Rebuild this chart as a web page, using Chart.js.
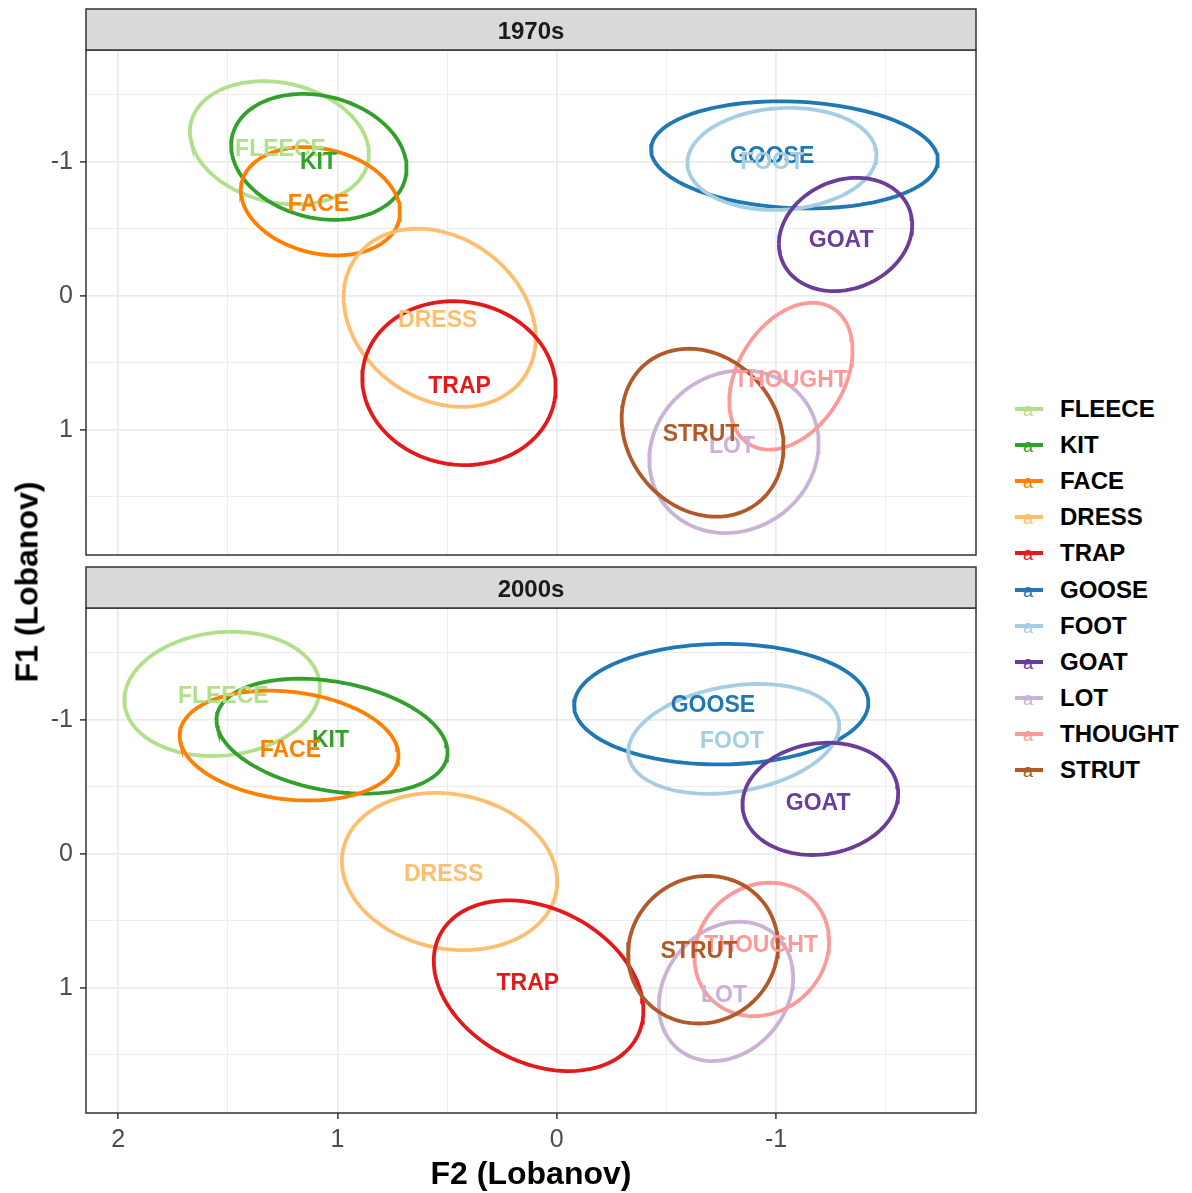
<!DOCTYPE html>
<html>
<head>
<meta charset="utf-8">
<title>Vowel ellipses by decade</title>
<script src="https://cdn.jsdelivr.net/npm/chart.js@4.4.0/dist/chart.umd.min.js"></script>
<style>
    body { margin: 0; background: #fff; font-family: 'Liberation Sans', Arial, sans-serif; }
    #wrap { position: relative; width: 1192px; height: 1193px; overflow: hidden; }
    canvas { position: absolute; left: 0; }
    #c1970 { top: 0; }
    #c2000 { top: 558px; }
    .ytitle { position: absolute; left: 27px; top: 582px; transform: translate(-50%, -50%) rotate(-90deg);
              font-weight: bold; font-size: 32px; white-space: nowrap; color: #000; }
    .xtitle { position: absolute; left: 531px; top: 1173px; transform: translate(-50%, -50%);
              font-weight: bold; font-size: 32px; white-space: nowrap; color: #000; }
    #legend { position: absolute; left: 1013px; top: 391px; }
    .row { height: 36.1px; display: flex; align-items: center; }
    .key { position: relative; width: 32px; height: 36px; margin-right: 15px; }
    .key .ln { position: absolute; left: 2px; width: 28px; top: 16px; height: 4px; }
    .key .a { position: absolute; left: 0; width: 30px; text-align: center; top: 10px;
              font-family: 'Liberation Sans', Arial, sans-serif; font-size: 18px; line-height: 18px; }
    .lab { font-weight: bold; font-size: 24px; color: #000; }
</style>
</head>
<body>
<div id="wrap">
    <canvas id="c1970" width="990" height="560"></canvas>
    <canvas id="c2000" width="990" height="635"></canvas>
    <div class="ytitle">F1 (Lobanov)</div>
    <div class="xtitle">F2 (Lobanov)</div>
    <div id="legend"></div>
</div>
<script>
// Vowel categories and colours
const vowels = ['FLEECE', 'KIT', 'FACE', 'DRESS', 'TRAP', 'GOOSE', 'FOOT', 'GOAT', 'LOT', 'THOUGHT', 'STRUT'];
const vowelColors = ['#B2DF8A', '#33A02C', '#FF7F00', '#FDBF6F', '#E31A1C', '#1F78B4',
                     '#A6CEE3', '#6A3D9A', '#CAB2D6', '#FB9A99', '#B15928'];
const decades = ['1970s', '2000s'];

// 1970s: ellipse centre, half-extent along each axis, tilt (correlation)
const f2Centre1970 = [1.265, 1.085, 1.078, 0.534, 0.446, -1.084, -1.027, -1.317, -0.808, -1.068, -0.665];
const f1Centre1970 = [-1.142, -1.037, -0.706, 0.164, 0.652, -1.052, -1.022, -0.458, 1.164, 0.600, 1.022];
const f2Spread1970 = [0.408, 0.400, 0.363, 0.438, 0.441, 0.654, 0.431, 0.304, 0.386, 0.281, 0.369];
const f1Spread1970 = [0.460, 0.470, 0.404, 0.665, 0.612, 0.400, 0.381, 0.423, 0.607, 0.548, 0.627];
const tilt1970 = [-0.18, -0.18, -0.20, -0.23, -0.06, -0.10, 0.08, 0.17, 0.10, 0.35, -0.17];
// 1970s: label positions (vowel means)
const f2Label1970 = [1.260, 1.087, 1.087, 0.543, 0.443, -0.982, -0.982, -1.297, -0.799, -1.068, -0.658];
const f1Label1970 = [-1.093, -0.996, -0.684, 0.186, 0.677, -1.041, -0.996, -0.409, 1.123, 0.632, 1.033];

// 2000s
const f2Centre2000 = [1.526, 1.025, 1.221, 0.489, 0.083, -0.750, -0.807, -1.202, -0.772, -0.935, -0.667];
const f1Centre2000 = [-1.194, -0.878, -0.808, 0.132, 0.985, -1.117, -0.858, -0.410, 1.027, 0.714, 0.716];
const f2Spread2000 = [0.446, 0.527, 0.499, 0.491, 0.478, 0.671, 0.481, 0.355, 0.306, 0.307, 0.342];
const f1Spread2000 = [0.464, 0.429, 0.410, 0.587, 0.637, 0.450, 0.410, 0.419, 0.520, 0.498, 0.551];
const tilt2000 = [0.10, -0.28, -0.18, -0.13, -0.29, 0.02, 0.24, 0.10, 0.20, 0.12, 0.06];
const f2Label2000 = [1.521, 1.032, 1.215, 0.516, 0.132, -0.712, -0.799, -1.192, -0.763, -0.932, -0.648];
const f1Label2000 = [-1.175, -0.848, -0.773, 0.156, 0.967, -1.108, -0.840, -0.372, 1.056, 0.684, 0.729];

// Axes
const f2Ticks = [-1.5, -1, -0.5, 0, 0.5, 1, 1.5, 2];
const f1Ticks = [-1.5, -1, -0.5, 0, 0.5, 1, 1.5];
const f2Range = [-1.912, 2.147];
const f1Range = [-1.835, 1.935];

const FONT = "'Liberation Sans', Arial, sans-serif";

// Outline of an ellipse with the given half-extents and correlation
function ellipse(cx, cy, sx, sy, r) {
    const pts = [];
    const q = Math.sqrt(1 - r * r);
    for (let i = 0; i <= 120; i++) {
        const t = i / 120 * 2 * Math.PI;
        pts.push({ x: cx + sx * Math.cos(t), y: cy + sy * (r * Math.cos(t) + q * Math.sin(t)) });
    }
    return pts;
}

const isMajor = ctx => ctx.tick && Number.isInteger(ctx.tick.value);

// Strip header, panel border and vowel labels
const panelPlugin = {
    id: 'panel',
    afterDatasetsDraw(chart, args, opts) {
        const { ctx, scales: { x, y } } = chart;
        ctx.save();
        ctx.font = 'bold 23px ' + FONT;
        ctx.textAlign = 'center';
        ctx.textBaseline = 'middle';
        opts.labelF2.forEach((v, i) => {
            ctx.fillStyle = vowelColors[i];
            ctx.fillText(vowels[i], x.getPixelForValue(v), y.getPixelForValue(opts.labelF1[i]));
        });
        ctx.restore();
    },
    afterDraw(chart, args, opts) {
        const { ctx, chartArea: a } = chart;
        ctx.save();
        ctx.strokeStyle = '#333333';
        ctx.lineWidth = 1.5;
        ctx.strokeRect(a.left, a.top, a.right - a.left, a.bottom - a.top);
        ctx.fillStyle = '#D9D9D9';
        ctx.fillRect(a.left, a.top - 41, a.right - a.left, 41);
        ctx.strokeRect(a.left, a.top - 41, a.right - a.left, 41);
        ctx.fillStyle = '#1A1A1A';
        ctx.font = 'bold 24px ' + FONT;
        ctx.textAlign = 'center';
        ctx.textBaseline = 'middle';
        ctx.fillText(opts.title, (a.left + a.right) / 2, a.top - 18);
        ctx.restore();
    }
};

function makeChart(id, title, f2c, f1c, f2s, f1s, tilt, f2l, f1l, showX) {
    const datasets = vowels.map((v, i) => ({
        label: v,
        data: ellipse(f2c[i], f1c[i], f2s[i], f1s[i], tilt[i]),
        showLine: true,
        borderColor: vowelColors[i],
        borderWidth: 3.8,
        pointRadius: 0,
        tension: 0,
        order: -i
    }));

    return new Chart(document.getElementById(id), {
        type: 'scatter',
        data: { datasets },
        options: {
            responsive: false,
            animation: false,
            devicePixelRatio: 1,
            layout: { padding: { top: 50, right: 14, bottom: showX ? 0 : 5, left: 0 } },
            plugins: {
                legend: { display: false },
                tooltip: { enabled: false },
                panel: { title, labelF2: f2l, labelF1: f1l }
            },
            scales: {
                x: {
                    type: 'linear',
                    reverse: true,
                    min: f2Range[0],
                    max: f2Range[1],
                    afterBuildTicks: s => { s.ticks = f2Ticks.map(v => ({ value: v })); },
                    afterFit: s => { s.height = showX ? 80 : 0; },
                    border: { display: false },
                    grid: {
                        color: '#EBEBEB',
                        lineWidth: c => isMajor(c) ? 1.8 : 0.9,
                        drawTicks: showX,
                        tickLength: 6,
                        tickWidth: 1.5,
                        tickColor: c => isMajor(c) ? '#333333' : 'rgba(0,0,0,0)'
                    },
                    ticks: {
                        display: showX,
                        autoSkip: false,
                        maxRotation: 0,
                        padding: 6,
                        color: '#4D4D4D',
                        font: { family: FONT, size: 25 },
                        callback: v => Number.isInteger(v) ? String(v) : ''
                    }
                },
                y: {
                    type: 'linear',
                    reverse: true,
                    min: f1Range[0],
                    max: f1Range[1],
                    afterBuildTicks: s => { s.ticks = f1Ticks.map(v => ({ value: v })); },
                    afterFit: s => { s.width = 86; s.paddingTop = 0; s.paddingBottom = 0; },
                    border: { display: false },
                    grid: {
                        color: '#EBEBEB',
                        lineWidth: c => isMajor(c) ? 1.8 : 0.9,
                        tickLength: 6,
                        tickWidth: 1.5,
                        tickColor: c => isMajor(c) ? '#333333' : 'rgba(0,0,0,0)'
                    },
                    ticks: {
                        autoSkip: false,
                        padding: 7,
                        color: '#4D4D4D',
                        font: { family: FONT, size: 25 },
                        callback: v => Number.isInteger(v) ? String(v) : ''
                    }
                }
            }
        },
        plugins: [panelPlugin]
    });
}

makeChart('c1970', decades[0], f2Centre1970, f1Centre1970, f2Spread1970, f1Spread1970, tilt1970,
          f2Label1970, f1Label1970, false);
makeChart('c2000', decades[1], f2Centre2000, f1Centre2000, f2Spread2000, f1Spread2000, tilt2000,
          f2Label2000, f1Label2000, true);

// Legend
const legend = document.getElementById('legend');
vowels.forEach((v, i) => {
    const row = document.createElement('div');
    row.className = 'row';
    row.innerHTML = '<div class="key"><div class="a" style="color:' + vowelColors[i] + '">a</div>' +
        '<div class="ln" style="background:' + vowelColors[i] + '"></div></div>' +
        '<span class="lab">' + v + '</span>';
    legend.appendChild(row);
});
</script>
</body>
</html>
